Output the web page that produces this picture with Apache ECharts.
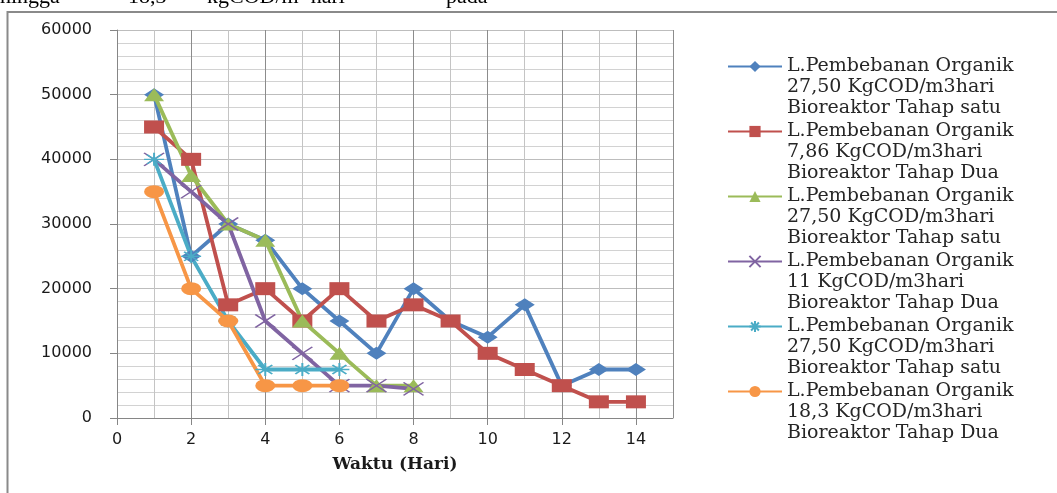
<!DOCTYPE html>
<html>
<head>
<meta charset="utf-8">
<script src="https://cdn.jsdelivr.net/npm/echarts@6/dist/echarts.min.js"></script>
<style>
  html, body { margin: 0; padding: 0; background: #fff; }
  #chart { width: 1057px; height: 493px; }
</style>
</head>
<body>
<div id="chart"></div>
<script>
// hari ke-
var days = [1, 2, 3, 4, 5, 6, 7, 8, 9, 10, 11, 12, 13, 14];

// COD per seri
var tahap1a = [50000, 25000, 30000, 27500, 20000, 15000, 10000, 20000, 15000, 12500, 17500, 5000, 7500, 7500];
var tahap2a = [45000, 40000, 17500, 20000, 15000, 20000, 15000, 17500, 15000, 10000, 7500, 5000, 2500, 2500];
var tahap1b = [50000, 37500, 30000, 27500, 15000, 10000, 5000, 5000];
var tahap2b = [40000, 35000, 30000, 15000, 10000, 5000, 5000, 4500];
var tahap1c = [40000, 25000, 15000, 7500, 7500, 7500];
var tahap2c = [35000, 20000, 15000, 5000, 5000, 5000];

var legendText = [
  'L.Pembebanan Organik\n27,50 KgCOD/m3hari\nBioreaktor Tahap satu',
  'L.Pembebanan Organik\n7,86 KgCOD/m3hari\nBioreaktor Tahap Dua',
  'L.Pembebanan Organik\n27,50 KgCOD/m3hari\nBioreaktor Tahap satu',
  'L.Pembebanan Organik\n11 KgCOD/m3hari\nBioreaktor Tahap Dua',
  'L.Pembebanan Organik\n27,50 KgCOD/m3hari\nBioreaktor Tahap satu',
  'L.Pembebanan Organik\n18,3 KgCOD/m3hari\nBioreaktor Tahap Dua'
];

var colors = ['#4F81BD', '#C0504D', '#9BBB59', '#8064A2', '#4BACC6', '#F79646'];
var symbols = [
  'diamond', 'rect', 'triangle',
  'path://M0,0L10,10M10,0L0,10',
  'path://M0,5L10,5M5,0L5,10M1.5,1.5L8.5,8.5M8.5,1.5L1.5,8.5',
  'circle'
];
var allValues = [tahap1a, tahap2a, tahap1b, tahap2b, tahap1c, tahap2c];

function pairs(vals) {
  return vals.map(function (v, i) { return [days[i], v]; });
}

var series = allValues.map(function (vals, k) {
  var stroke = k === 3 || k === 4;
  return {
    name: 's' + k,
    type: 'line',
    data: pairs(vals),
    symbol: symbols[k],
    symbolSize: [20, 13],
    symbolKeepAspect: false,
    lineStyle: { width: 3.8, color: colors[k] },
    itemStyle: stroke ? { color: colors[k], borderColor: colors[k], borderWidth: 1.6 } : { color: colors[k] },
    emphasis: { disabled: true },
    animation: false
  };
});

var chart = echarts.init(document.getElementById('chart'));
chart.setOption({
  animation: false,
  grid: { left: 117, right: 384, top: 30, bottom: 75 },
  legend: {
    orient: 'vertical',
    left: 727,
    top: 14,
    padding: 0,
    itemWidth: 54,
    itemHeight: 14,
    itemGap: -40,
    selectedMode: false,
    data: series.map(function (s) { return s.name; }),
    // dua baris kosong di depan supaya ikon sejajar dengan baris pertama
    formatter: function (name) { return '\n\n' + legendText[+name.slice(1)]; },
    textStyle: {
      fontFamily: 'DejaVu Serif',
      fontSize: 19,
      lineHeight: 21,
      color: '#262626'
    }
  },
  xAxis: {
    type: 'value',
    min: 0,
    max: 15,
    interval: 2,
    name: 'Waktu (Hari)',
    nameLocation: 'middle',
    nameGap: 38,
    nameTextStyle: { fontFamily: 'DejaVu Serif', fontWeight: 'bold', fontSize: 17, color: '#1a1a1a' },
    axisLine: { lineStyle: { color: '#868686', width: 1 } },
    axisTick: { show: true, length: 7, lineStyle: { color: '#868686' } },
    axisLabel: { fontFamily: 'DejaVu Sans', fontSize: 16, color: '#1a1a1a', margin: 14, showMaxLabel: false },
    splitLine: { show: true, lineStyle: { color: '#8C8C8C', width: 1 } },
    minorTick: { show: false, splitNumber: 2 },
    minorSplitLine: { show: true, lineStyle: { color: '#C4C4C4', width: 1 } }
  },
  yAxis: {
    type: 'value',
    min: 0,
    max: 60000,
    interval: 10000,
    axisLine: { show: true, lineStyle: { color: '#868686', width: 1 } },
    axisTick: { show: true, length: 7, lineStyle: { color: '#868686' } },
    axisLabel: {
      fontFamily: 'DejaVu Sans', fontSize: 16, color: '#1a1a1a', margin: 25,
      formatter: function (v) { return String(v); }
    },
    splitLine: { show: true, lineStyle: { color: '#BDBDBD', width: 1 } },
    minorTick: { show: false, splitNumber: 5 },
    minorSplitLine: { show: true, lineStyle: { color: '#D2D2D2', width: 1 } }
  },
  graphic: [
    // bingkai grafik
    { type: 'rect', shape: { x: 7.5, y: 12, width: 1100, height: 600 },
      style: { fill: 'none', stroke: '#8a8a8a', lineWidth: 2 }, silent: true },
    // sisa teks paragraf di atas grafik
    { type: 'text', left: 0, top: -14, style: { text: 'hingga', font: '22px "Liberation Serif"', fill: '#000' } },
    { type: 'text', left: 128, top: -14, style: { text: '18,3', font: '22px "Liberation Serif"', fill: '#000' } },
    { type: 'text', left: 207, top: -14, style: { text: 'kgCOD/m\u00b3 hari', font: '22px "Liberation Serif"', fill: '#000' } },
    { type: 'text', left: 446, top: -14, style: { text: 'pada', font: '22px "Liberation Serif"', fill: '#000' } }
  ],
  series: series
});
</script>
</body>
</html>
